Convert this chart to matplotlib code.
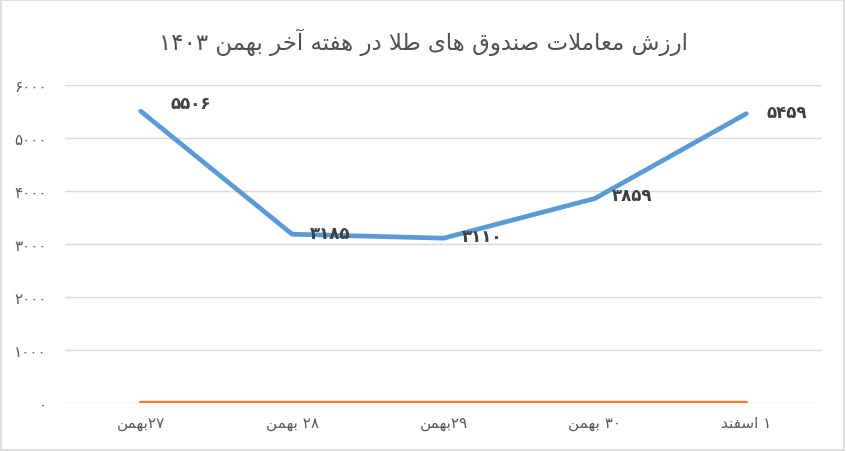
import re
import matplotlib
matplotlib.use("Agg")
import matplotlib.pyplot as plt
from matplotlib.patches import Rectangle

# data
title = "ارزش معاملات صندوق های طلا در هفته آخر بهمن ۱۴۰۳"
days = ["۲۷بهمن", "۲۸ بهمن", "۲۹بهمن", "۳۰ بهمن", "۱ اسفند"]
values = [5506, 3185, 3110, 3859, 5459]
zeros = [0, 0, 0, 0, 0]
yticks = [0, 1000, 2000, 3000, 4000, 5000, 6000]

# minimal arabic/persian shaping (matplotlib has no complex text layout)
# letter: (isolated, final, initial, medial); 2-tuple = right-joining only
FORMS = {
    "ا": (0xFE8D, 0xFE8E), "آ": (0xFE81, 0xFE82),
    "د": (0xFEA9, 0xFEAA), "ر": (0xFEAD, 0xFEAE), "ز": (0xFEAF, 0xFEB0),
    "و": (0xFEED, 0xFEEE),
    "ب": (0xFE8F, 0xFE90, 0xFE91, 0xFE92), "ت": (0xFE95, 0xFE96, 0xFE97, 0xFE98),
    "خ": (0xFEA5, 0xFEA6, 0xFEA7, 0xFEA8), "س": (0xFEB1, 0xFEB2, 0xFEB3, 0xFEB4),
    "ش": (0xFEB5, 0xFEB6, 0xFEB7, 0xFEB8), "ص": (0xFEB9, 0xFEBA, 0xFEBB, 0xFEBC),
    "ط": (0xFEC1, 0xFEC2, 0xFEC3, 0xFEC4), "ع": (0xFEC9, 0xFECA, 0xFECB, 0xFECC),
    "ف": (0xFED1, 0xFED2, 0xFED3, 0xFED4), "ق": (0xFED5, 0xFED6, 0xFED7, 0xFED8),
    "ل": (0xFEDD, 0xFEDE, 0xFEDF, 0xFEE0), "م": (0xFEE1, 0xFEE2, 0xFEE3, 0xFEE4),
    "ن": (0xFEE5, 0xFEE6, 0xFEE7, 0xFEE8), "ه": (0xFEE9, 0xFEEA, 0xFEEB, 0xFEEC),
    "ی": (0xFBFC, 0xFBFD, 0xFBFE, 0xFBFF),
}
LAM_ALEF = {"ا": (0xFEFB, 0xFEFC), "آ": (0xFEF5, 0xFEF6)}


def fa(text):
    out = []
    i = 0
    n = len(text)
    while i < n:
        c = text[i]
        if c not in FORMS:
            out.append(c)
            i += 1
            continue
        prev = text[i - 1] if i > 0 else ""
        join_prev = prev in FORMS and len(FORMS[prev]) == 4
        if c == "ل" and i + 1 < n and text[i + 1] in LAM_ALEF:
            lig = LAM_ALEF[text[i + 1]]
            out.append(chr(lig[1] if join_prev else lig[0]))
            i += 2
            continue
        nxt = text[i + 1] if i + 1 < n else ""
        f = FORMS[c]
        join_next = len(f) == 4 and nxt in FORMS
        if join_prev and join_next:
            g = f[3]
        elif join_prev:
            g = f[1]
        elif join_next:
            g = f[2]
        else:
            g = f[0]
        out.append(chr(g))
        i += 1
    vis = "".join(out)[::-1]
    # digit runs stay left to right
    return re.sub(r"[۰-۹0-9]+", lambda m: m.group(0)[::-1], vis)


def fa_num(v):
    return str(v).translate(str.maketrans("0123456789", "۰۱۲۳۴۵۶۷۸۹"))


plt.rcParams["font.family"] = ["DejaVu Sans"]

fig = plt.figure(figsize=(8.46, 4.52), dpi=100)
ax = fig.add_axes([65 / 846, 1 - 404 / 452, (822 - 65) / 846, (404 - 86) / 452])
fig.patches.append(Rectangle((0.001, 0.002), 0.997, 0.995, transform=fig.transFigure,
                             fill=False, edgecolor="#d9d9d9", linewidth=1.2))

x = list(range(len(days)))
ax.plot(x, values, color="#5b9bd5", linewidth=3.4, solid_capstyle="round",
        solid_joinstyle="round", zorder=3)
ax.plot(x, zeros, color="#ed7d31", linewidth=3.2, solid_capstyle="round", zorder=3)

# label offsets in pixels (the first one sits further out, as in the original)
offsets = [(30, 8), (18, 1), (18, 2), (17, 3), (20, 2)]
for xi, v, off in zip(x, values, offsets):
    ax.annotate(fa_num(v), (xi, v), xytext=off, textcoords="offset pixels",
                ha="left", va="center", fontsize=12, fontweight="bold", color="#404040")

ax.set_xlim(-0.5, len(days) - 0.5)
ax.set_ylim(0, 6000)
ax.set_yticks(yticks)
ax.set_yticklabels([fa_num(t) for t in yticks])
ax.set_xticks(x)
ax.set_xticklabels([fa(d) for d in days])
ax.tick_params(length=0, labelsize=11, labelcolor="#595959")
ax.tick_params(axis="y", pad=13)
ax.tick_params(axis="x", pad=9)
ax.grid(axis="y", color="#d9d9d9", linewidth=1)
ax.set_axisbelow(True)
for s in ax.spines.values():
    s.set_visible(False)

fig.text(0.5, 1 - 42 / 452, fa(title), ha="center", va="center", fontsize=16.5, color="#505050")

fig.savefig("out.png", dpi=100)
